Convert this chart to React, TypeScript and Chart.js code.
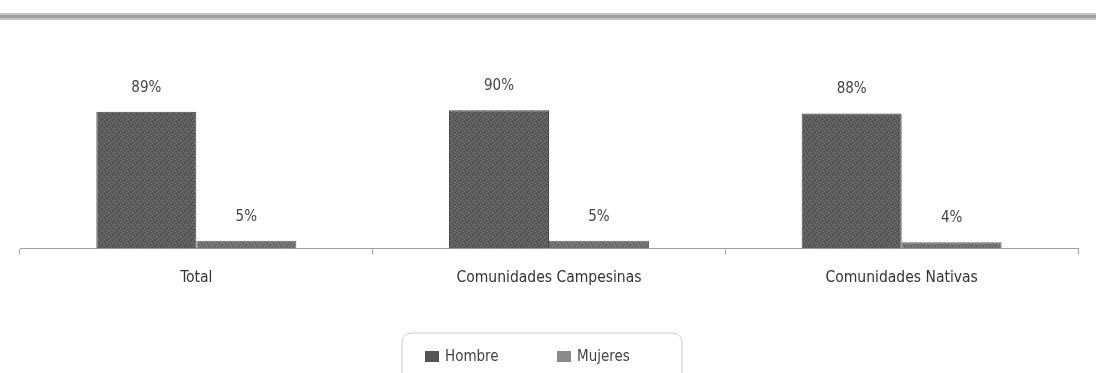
import React, { useEffect, useRef } from "react";
import { Chart, registerables } from "chart.js";
Chart.register(...registerables);

const categories = ["Total", "Comunidades Campesinas", "Comunidades Nativas"];
const hombreValues = [89, 90, 88];
const mujeresValues = [5, 5, 4];
const seriesNames = ["Hombre", "Mujeres"];
const valueLabelsHombre = ["89%", "90%", "88%"];
const valueLabelsMujeres = ["5%", "5%", "4%"];

const FONT = "'Liberation Sans Narrow', 'DejaVu Sans Condensed', 'Liberation Sans', sans-serif";

function makePattern(base: string, light: string, dark: string) {
  const c = document.createElement("canvas");
  c.width = 6;
  c.height = 6;
  const ctx = c.getContext("2d") as CanvasRenderingContext2D;
  ctx.fillStyle = base;
  ctx.fillRect(0, 0, 6, 6);
  ctx.fillStyle = light;
  [[0, 0], [3, 1], [1, 3], [4, 4], [2, 5], [5, 2]].forEach(([x, y]) => ctx.fillRect(x, y, 1, 1));
  ctx.fillStyle = dark;
  [[2, 1], [5, 0], [0, 4], [3, 3], [4, 5]].forEach(([x, y]) => ctx.fillRect(x, y, 1, 1));
  return ctx.createPattern(c, "repeat") as CanvasPattern;
}

const topLinePlugin = {
  id: "topLine",
  beforeDraw(chart: any) {
    const ctx = chart.ctx;
    ctx.save();
    ctx.fillStyle = "#ffffff";
    ctx.fillRect(0, 0, chart.width, chart.height);
    ctx.fillStyle = "#c4c4c4";
    ctx.fillRect(0, 13, chart.width, 7);
    ctx.fillStyle = "#a0a0a0";
    ctx.fillRect(0, 15, chart.width, 3);
    ctx.restore();
  },
};

const dataLabelPlugin = {
  id: "dataLabels",
  afterDatasetsDraw(chart: any) {
    const ctx = chart.ctx;
    const labelSets = [valueLabelsHombre, valueLabelsMujeres];
    ctx.save();
    ctx.font = `15px ${FONT}`;
    ctx.fillStyle = "#444444";
    ctx.textAlign = "center";
    ctx.textBaseline = "middle";
    chart.data.datasets.forEach((_ds: any, di: number) => {
      const meta = chart.getDatasetMeta(di);
      meta.data.forEach((bar: any, i: number) => {
        ctx.fillText(labelSets[di][i], bar.x, bar.y - 24);
      });
    });
    ctx.restore();
  },
};

const legendPlugin = {
  id: "boxLegend",
  afterDraw(chart: any) {
    const ctx = chart.ctx;
    ctx.save();
    const bx = 402, by = 333, bw = 280, bh = 60, r = 10;
    ctx.beginPath();
    ctx.moveTo(bx + r, by);
    ctx.lineTo(bx + bw - r, by);
    ctx.quadraticCurveTo(bx + bw, by, bx + bw, by + r);
    ctx.lineTo(bx + bw, by + bh);
    ctx.lineTo(bx, by + bh);
    ctx.lineTo(bx, by + r);
    ctx.quadraticCurveTo(bx, by, bx + r, by);
    ctx.closePath();
    ctx.strokeStyle = "#cccccc";
    ctx.lineWidth = 1;
    ctx.stroke();
    const xs = [425, 557];
    const swatch = ["#555555", "#8a8a8a"];
    ctx.font = `15px ${FONT}`;
    ctx.textBaseline = "middle";
    ctx.textAlign = "left";
    chart.data.datasets.forEach((ds: any, i: number) => {
      ctx.fillStyle = swatch[i];
      ctx.fillRect(xs[i], 351, 14, 11);
      ctx.fillStyle = "#444444";
      ctx.fillText(ds.label, xs[i] + 20, 357);
    });
    ctx.restore();
  },
};

export default function App() {
  const ref = useRef<HTMLCanvasElement | null>(null);
  useEffect(() => {
    if (!ref.current) return;
    const chart = new Chart(ref.current, {
      type: "bar",
      data: {
        labels: categories,
        datasets: [
          {
            label: seriesNames[0],
            data: hombreValues,
            backgroundColor: makePattern("#5c5c5c", "#7a7a7a", "#444444"),
            borderColor: "#474747",
            borderWidth: 1,
            categoryPercentage: 0.567,
            barPercentage: 1,
          },
          {
            label: seriesNames[1],
            data: mujeresValues,
            backgroundColor: makePattern("#707070", "#8c8c8c", "#5a5a5a"),
            borderColor: "#666666",
            borderWidth: 1,
            categoryPercentage: 0.567,
            barPercentage: 1,
          },
        ],
      },
      options: {
        animation: false,
        responsive: false,
        maintainAspectRatio: false,
        layout: { padding: { left: 20, right: 18, top: 95, bottom: 72 } },
        plugins: { legend: { display: false }, tooltip: { enabled: false } },
        scales: {
          x: {
            offset: true,
            grid: {
              display: true,
              offset: true,
              drawOnChartArea: false,
              drawTicks: true,
              tickLength: 6,
              color: "#aaaaaa",
            },
            border: { display: true, color: "#a0a0a0", width: 1 },
            ticks: {
              color: "#333333",
              font: { family: FONT, size: 15.5 },
              padding: 14,
              maxRotation: 0,
            },
          },
          y: {
            display: false,
            min: 0,
            max: 100,
          },
        },
      },
      plugins: [topLinePlugin, dataLabelPlugin, legendPlugin],
    });
    return () => chart.destroy();
  }, []);
  return (
    <div style={{ position: "fixed", left: 0, top: 0, width: 1096, height: 373, background: "#fff" }}>
      <canvas ref={ref} width={1096} height={373} style={{ display: "block", width: 1096, height: 373 }} />
    </div>
  );
}
